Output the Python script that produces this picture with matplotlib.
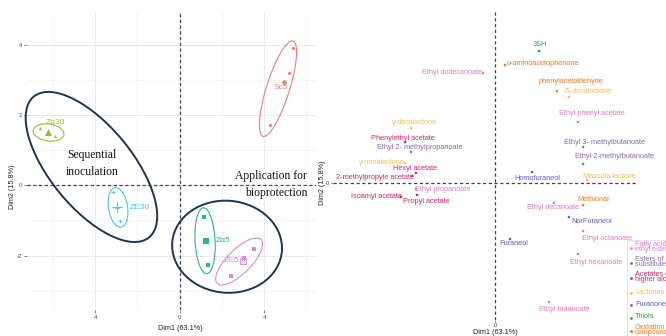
import numpy as np
import matplotlib
matplotlib.use("Agg")
import matplotlib.pyplot as plt
from matplotlib.patches import Ellipse, Rectangle
from matplotlib.transforms import ScaledTranslation

plt.rcParams['font.family'] = ['Liberation Sans', 'DejaVu Sans']

# ---------------- Individuals (left panel) ----------------
groups = ["Sc5", "Zα30", "Zα5", "ZE30", "ZE5"]
group_colors = ["#F07C74", "#A3B43C", "#2DB487", "#4FC0EC", "#D98AD6"]
group_markers = ["o", "^", "s", "+", "s"]
group_x = [[5.36, 4.27, 5.16], [-6.60, -5.88, -6.24], [1.16, 1.35, 1.24],
           [-3.13, -2.80, -2.95], [3.53, 2.44, 3.03]]
group_y = [[3.91, 1.71, 3.20], [1.63, 1.40, 1.50], [-0.90, -2.27, -1.57],
           [-0.20, -1.03, -0.66], [-1.81, -2.58, -2.06]]
# confidence ellipses: centre (data), full axes (inches), angle (deg)
ell_cx = [4.66, -6.20, 1.21, -2.91, 2.82]
ell_cy = [2.75, 1.50, -1.58, -0.63, -2.17]
ell_w = [1.00, 0.31, 0.66, 0.40, 0.62]
ell_h = [0.23, 0.17, 0.20, 0.19, 0.24]
ell_ang = [72.5, -8, 93, 99, 45]
label_off = [(-3, -6), (8, 10), (17, 0), (23, 0), (-11, 0)]

# hand-drawn annotation ellipses
ann_cx = [-4.17, 2.25]
ann_cy = [0.52, -1.75]
ann_w = [1.82, 1.10]
ann_h = [0.82, 0.92]
ann_ang = [-50.7, -5]

# ---------------- Variables (right panel) ----------------
categories = ["Fatty acids\nethyl esters", "Esters of alkyl\nsubstituted acids",
              "Acetates of\nhigher alcohols", "Lactones", "Furanones", "Thiols",
              "Oxidation\ncompounds"]
cat_colors = ["#E27CC0", "#8C6BA6", "#D2286E", "#F3BE5A", "#5D60C3", "#2F9E56", "#EE7A26"]

var_names = ["3SH", "o-aminoacetophenone", "Ethyl dodecanoate", "phenylacetaldehyde",
             "δ–decalactone", "Ethyl phenyl acetate", "Ethyl 3- methylbutanoate",
             "Ethyl 2-methylbutanoate", "γ-decalactone", "Phenylethyl acetate",
             "Ethyl 2- methylpropanoate", "γ-nonalactone", "Hexyl acetate",
             "2-methylpropyle acetate", "Ethyl propanoate", "Isoamyl acetate",
             "Propyl acetate", "Homofuraneol", "Massoia lactone", "Methional",
             "Ethyl decanoate", "NorFuraneol", "Ethyl octanoate", "Furaneol",
             "Ethyl hexanoate", "Ethyl butanoate"]
var_cat = [5, 6, 0, 6, 3, 0, 1, 1, 3, 2, 1, 3, 2, 2, 0, 2, 2, 4, 3, 6, 0, 4, 0, 4, 0, 0]
var_x = [0.293, 0.067, -0.080, 0.413, 0.493, 0.553, 0.587, 0.587, -0.560, -0.600,
         -0.560, -0.600, -0.527, -0.553, -0.527, -0.627, -0.520, 0.247, 0.613, 0.587,
         0.393, 0.493, 0.587, 0.100, 0.553, 0.360]
var_y = [0.880, 0.787, 0.733, 0.613, 0.573, 0.407, 0.240, 0.127, 0.367, 0.273,
         0.207, 0.133, 0.067, 0.047, -0.040, -0.093, -0.080, 0.073, 0.020, -0.147,
         -0.133, -0.227, -0.320, -0.373, -0.473, -0.793]
var_lab_off = [(1, 7), (38, 1), (-31, 1), (14, 10), (19, 6), (14, 8), (21, 5), (31, 7),
               (4, 5), (-2, 4), (9, 4), (-23, 1), (-1, 4), (-37, -2), (27, 0), (-25, 0),
               (9, -6), (5, -6), (22, 4), (10, 6), (-1, -5), (23, -4), (24, -7), (4, -5),
               (18, -9), (15, -8)]

W, H = 666, 336
fig = plt.figure(figsize=(W / 100, H / 100), dpi=100)
fig.patch.set_facecolor("white")

# ---------- left panel ----------
ax1 = fig.add_axes([27 / W, 1 - 310 / H, 289 / W, 298 / H])
ax1.set_xlim(-7.22, 6.46)
ax1.set_ylim(-3.55, 4.93)
ax1.set_xticks([-4, 0, 4])
ax1.set_xticks([-6, -2, 2, 6], minor=True)
ax1.set_yticks([-2, 0, 2, 4])
ax1.set_yticks([-3, -1, 1, 3], minor=True)
ax1.set_xticklabels(["-4", "0", "4"])
ax1.set_yticklabels(["-2", "0", "2", "4"])
ax1.grid(which="major", color="#E4E4E4", lw=0.6)
ax1.grid(which="minor", color="#F0F0F0", lw=0.45)
ax1.set_axisbelow(True)
for s in ax1.spines.values():
    s.set_visible(False)
ax1.tick_params(which="major", length=2, width=0.5, color="#555555", labelsize=4.3,
                labelcolor="#4D4D4D", pad=1.5)
ax1.tick_params(which="minor", length=0)
ax1.axhline(0, color="#444444", lw=0.9, ls=(0, (2.6, 2.0)), zorder=1)
ax1.axvline(0, color="#444444", lw=0.9, ls=(0, (2.6, 2.0)), zorder=1)

for i, g in enumerate(groups):
    c = group_colors[i]
    m = group_markers[i]
    gx, gy = np.array(group_x[i]), np.array(group_y[i])
    if m == "+":
        ax1.scatter(gx, gy, marker="+", s=12, color=c, lw=0.6, zorder=3)
    else:
        ax1.scatter(gx, gy, marker=m, s=5, color=c, lw=0, zorder=3)
    mx, my = gx.mean(), gy.mean()
    if i == 0:
        ax1.scatter([mx], [my], marker="o", s=10, color=c, lw=0, zorder=4)
    elif i == 1:
        ax1.scatter([mx], [my], marker="^", s=26, color=c, lw=0, zorder=4)
    elif i == 2:
        ax1.scatter([mx], [my], marker="s", s=18, color=c, lw=0, zorder=4)
    elif i == 3:
        ax1.scatter([mx], [my], marker="+", s=45, color=c, lw=0.8, zorder=4)
    else:
        ax1.scatter([mx], [my], marker="s", s=16, facecolor="none", edgecolor=c, lw=0.6, zorder=4)
        ax1.scatter([mx], [my], marker="x", s=10, color=c, lw=0.5, zorder=4)
    tr = fig.dpi_scale_trans + ScaledTranslation(ell_cx[i], ell_cy[i], ax1.transData)
    ax1.add_patch(Ellipse((0, 0), ell_w[i], ell_h[i], angle=ell_ang[i], transform=tr,
                          facecolor="none", edgecolor=c, lw=0.8, zorder=3))
    ax1.annotate(g, (mx, my), xytext=label_off[i], textcoords="offset pixels",
                 ha="center", va="center", fontsize=6, color=c, zorder=5)

for i in range(2):
    tr = fig.dpi_scale_trans + ScaledTranslation(ann_cx[i], ann_cy[i], ax1.transData)
    ax1.add_patch(Ellipse((0, 0), ann_w[i], ann_h[i], angle=ann_ang[i], transform=tr,
                          facecolor="none", edgecolor="#1C3553", lw=1.4, zorder=5,
                          clip_on=False))

serif = ["Liberation Serif", "DejaVu Serif"]
ax1.text(-4.14, 0.86, "Sequential", family=serif, fontsize=8.4, ha="center", va="center",
         color="#111111", zorder=6)
ax1.text(-4.14, 0.38, "inoculation", family=serif, fontsize=8.4, ha="center", va="center",
         color="#111111", zorder=6)
ax1.text(6.04, 0.27, "Application for", family=serif, fontsize=8.4, ha="right", va="center",
         color="#111111", zorder=6, clip_on=False,
         bbox=dict(boxstyle="square,pad=0.05", fc="white", ec="none"))
ax1.text(6.04, -0.22, "bioprotection", family=serif, fontsize=8.4, ha="right", va="center",
         color="#111111", zorder=6, clip_on=False,
         bbox=dict(boxstyle="square,pad=0.05", fc="white", ec="none"))

fig.text(180 / W, 1 - 329 / H, "Dim1 (63.1%)", fontsize=5.2, ha="center", va="center", color="#222222")
fig.text(13 / W, 1 - 187 / H, "Dim2 (15.8%)", fontsize=5.2, ha="center", va="center",
         rotation=90, color="#222222")

# ---------- right panel ----------
ax2 = fig.add_axes([333 / W, 1 - 320 / H, 303 / W, 308 / H])
ax2.set_xlim(-1.08, 0.94)
ax2.set_ylim(-0.913, 1.14)
ax2.set_facecolor("none")
for s in ax2.spines.values():
    s.set_visible(False)
ax2.set_xticks([0])
ax2.set_yticks([0])
ax2.tick_params(length=1.5, width=0.5, color="#555555", labelsize=4.3, labelcolor="#4D4D4D", pad=1)
ax2.axhline(0, color="#444444", lw=0.9, ls=(0, (2.6, 2.0)), zorder=1)
ax2.axvline(0, color="#444444", lw=0.9, ls=(0, (2.6, 2.0)), zorder=1)

vc = [cat_colors[k] for k in var_cat]
ax2.scatter(var_x, var_y, s=3.5, c=vc, lw=0, zorder=3)
for name, x, y, c, off in zip(var_names, var_x, var_y, vc, var_lab_off):
    ax2.annotate(name, (x, y), xytext=off, textcoords="offset pixels", ha="center",
                 va="center", fontsize=5.3, color=c, zorder=4, annotation_clip=False)

fig.text(495 / W, 1 - 332 / H, "Dim1 (63.1%)", fontsize=5.2, ha="center", va="center", color="#222222")
fig.text(322 / W, 1 - 183 / H, "Dim2 (15.8%)", fontsize=5.2, ha="center", va="center",
         rotation=90, color="#222222")

# ---------- legend (cut by the right edge, as in the original) ----------
ov = fig.add_axes([0, 0, 1, 1], facecolor="none")
ov.set_xlim(0, W)
ov.set_ylim(H, 0)
ov.axis("off")
leg_rows = [247, 262, 277, 292, 304, 317, 330]
ov.add_patch(Rectangle((627, 240), 60, 120, facecolor="white", edgecolor="#DADADA", lw=0.5))
for lab, c, yy in zip(categories, cat_colors, leg_rows):
    ov.plot([630.5], [yy + 1], marker="o", ms=2.0, mew=0, color=c, ls="")
    ov.text(635, yy, lab, fontsize=5.2, color=c, ha="left", va="center", linespacing=0.75)

fig.savefig("out.png", dpi=100)
